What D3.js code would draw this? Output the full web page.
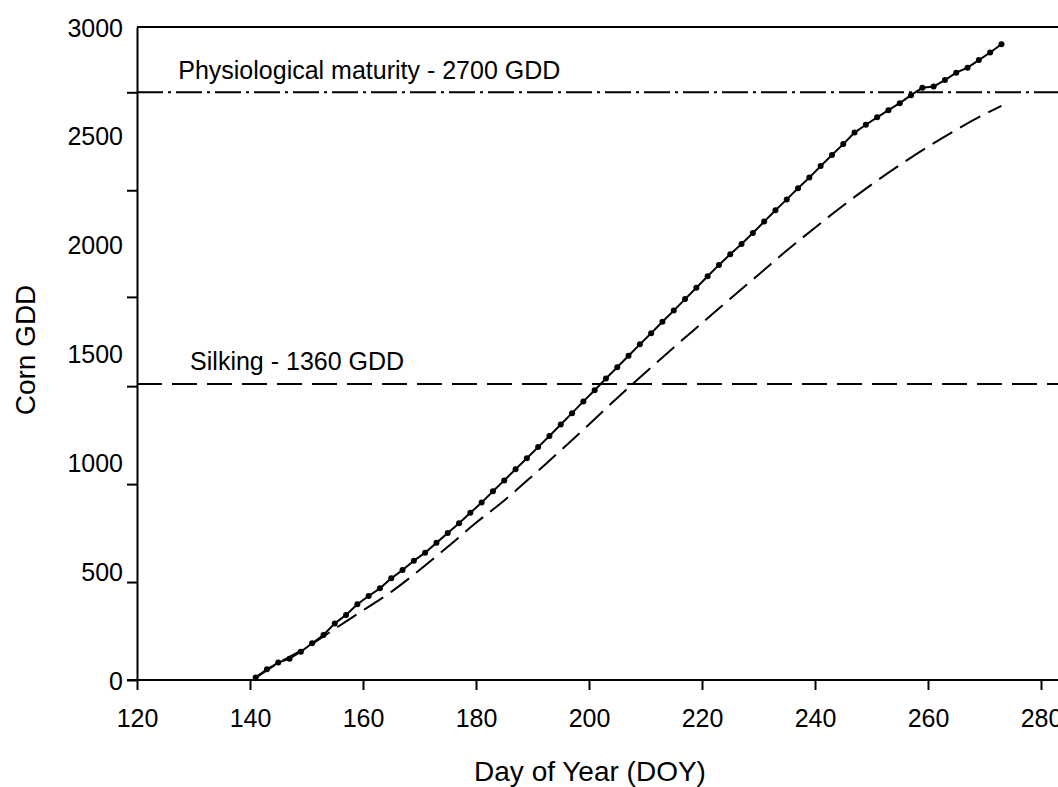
<!DOCTYPE html>
<html>
<head>
<meta charset="utf-8">
<script src="https://cdn.jsdelivr.net/npm/d3@7"></script>
<style>
  body { margin: 0; background: #fff; }
  svg { display: block; font-family: Arial, "Liberation Sans", sans-serif; }
</style>
</head>
<body>
<svg id="chart" width="1058" height="787"></svg>
<script>
// observed corn GDD, marker every 2nd day
const obsDays = d3.range(141, 274, 2);
const obsGdd = [
  12, 49, 80, 98, 130, 169, 207, 260, 299, 348,
  386, 421, 467, 505, 548, 585, 630, 675, 720, 768,
  815, 867, 917, 968, 1019, 1070, 1121, 1174, 1226, 1280,
  1331, 1385, 1437, 1490, 1542, 1593, 1646, 1697, 1750, 1802,
  1855, 1907, 1956, 2003, 2054, 2106, 2158, 2208, 2259, 2309,
  2361, 2412, 2462, 2515, 2551, 2585, 2618, 2650, 2687, 2721,
  2727, 2756, 2790, 2813, 2848, 2883, 2921
];

// long-term normal (dashed curve)
const normDays = [141, 145, 150, 155, 160, 165, 170, 175, 180, 185, 190, 195, 200, 205, 210,
  215, 220, 225, 230, 235, 240, 245, 250, 255, 260, 265, 270, 273];
const normGdd = [10, 78, 150, 235, 320, 405, 505, 612, 722, 825, 938, 1055, 1174, 1296, 1413,
  1528, 1640, 1752, 1862, 1973, 2078, 2180, 2276, 2366, 2450, 2528, 2599, 2638];

const xTicks = [120, 140, 160, 180, 200, 220, 240, 260, 280];
const yLabels = [0, 500, 1000, 1500, 2000, 2500, 3000];
const yTickMarks = [0, 450, 900, 1350, 1760, 2250, 2700];

const thresholds = [
  { name: 'Physiological maturity - 2700 GDD', value: 2700, dash: '26,5,3,5', labelDay: 127.3, labelOffset: 13 },
  { name: 'Silking - 1360 GDD', value: 1360, dash: '25,10', labelDay: 129.4, labelOffset: 14 }
];

const svg = d3.select('#chart');
const W = 1058, H = 787;
const margin = { top: 27, left: 137, bottom: 107 };

const x = d3.scaleLinear().domain([120, 280]).range([margin.left, 1041]);
const y = d3.scaleLinear().domain([0, 3000]).range([H - margin.bottom, margin.top]);

const obs = obsDays.map((d, i) => ({ day: d, gdd: obsGdd[i] }));
const norm = normDays.map((d, i) => ({ day: d, gdd: normGdd[i] }));

// frame: top line
svg.append('line')
  .attr('x1', x(120)).attr('x2', W)
  .attr('y1', y(3000)).attr('y2', y(3000))
  .attr('stroke', '#000').attr('stroke-width', 2);

// threshold lines + labels
thresholds.forEach(t => {
  svg.append('line')
    .attr('x1', x(120)).attr('x2', W)
    .attr('y1', y(t.value)).attr('y2', y(t.value))
    .attr('stroke', '#000').attr('stroke-width', 2)
    .attr('stroke-dasharray', t.dash);
  svg.append('text')
    .attr('x', x(t.labelDay))
    .attr('y', y(t.value) - t.labelOffset)
    .attr('font-size', 25)
    .attr('fill', '#000')
    .text(t.name);
});

// normal curve (dashed)
svg.append('path')
  .datum(norm)
  .attr('fill', 'none')
  .attr('stroke', '#000')
  .attr('stroke-width', 2)
  .attr('stroke-dasharray', '23,9')
  .attr('d', d3.line().x(d => x(d.day)).y(d => y(d.gdd)).curve(d3.curveMonotoneX));

// observed curve
svg.append('path')
  .datum(obs)
  .attr('fill', 'none')
  .attr('stroke', '#000')
  .attr('stroke-width', 2)
  .attr('d', d3.line().x(d => x(d.day)).y(d => y(d.gdd)));

svg.append('g').selectAll('circle')
  .data(obs)
  .join('circle')
  .attr('cx', d => x(d.day))
  .attr('cy', d => y(d.gdd))
  .attr('r', 3)
  .attr('fill', '#000');

// x axis
const xAxis = svg.append('g')
  .attr('transform', `translate(0,${y(0)})`)
  .call(d3.axisBottom(x).tickValues(xTicks).tickSize(10).tickPadding(19).tickSizeOuter(0));
xAxis.select('.domain').remove();
xAxis.append('line')
  .attr('x1', x(120) - 10).attr('x2', W)
  .attr('stroke', '#000').attr('stroke-width', 2);
xAxis.selectAll('.tick line').attr('stroke-width', 2);
xAxis.selectAll('.tick text').attr('font-size', 25).attr('fill', '#000')
  .attr('font-family', 'Arial, "Liberation Sans", sans-serif');

// y axis: tick marks
const yAxis = svg.append('g')
  .attr('transform', `translate(${x(120)},0)`)
  .call(d3.axisLeft(y).tickValues(yTickMarks).tickSize(10).tickFormat('').tickSizeOuter(0));
yAxis.select('.domain').attr('stroke-width', 2);
yAxis.selectAll('.tick line').attr('stroke-width', 2);

// y axis: labels
const yLab = svg.append('g')
  .attr('transform', `translate(${x(120)},0)`)
  .call(d3.axisLeft(y).tickValues(yLabels).tickSize(0).tickPadding(14).tickFormat(d3.format('d')));
yLab.select('.domain').remove();
yLab.selectAll('.tick text').attr('font-size', 25).attr('fill', '#000').attr('dy', '0.36em')
  .attr('font-family', 'Arial, "Liberation Sans", sans-serif');

// axis titles
svg.append('text')
  .attr('x', 590).attr('y', 781)
  .attr('text-anchor', 'middle')
  .attr('font-size', 28)
  .text('Day of Year (DOY)');

svg.append('text')
  .attr('transform', 'translate(35,350) rotate(-90)')
  .attr('text-anchor', 'middle')
  .attr('font-size', 28)
  .text('Corn GDD');
</script>
</body>
</html>
